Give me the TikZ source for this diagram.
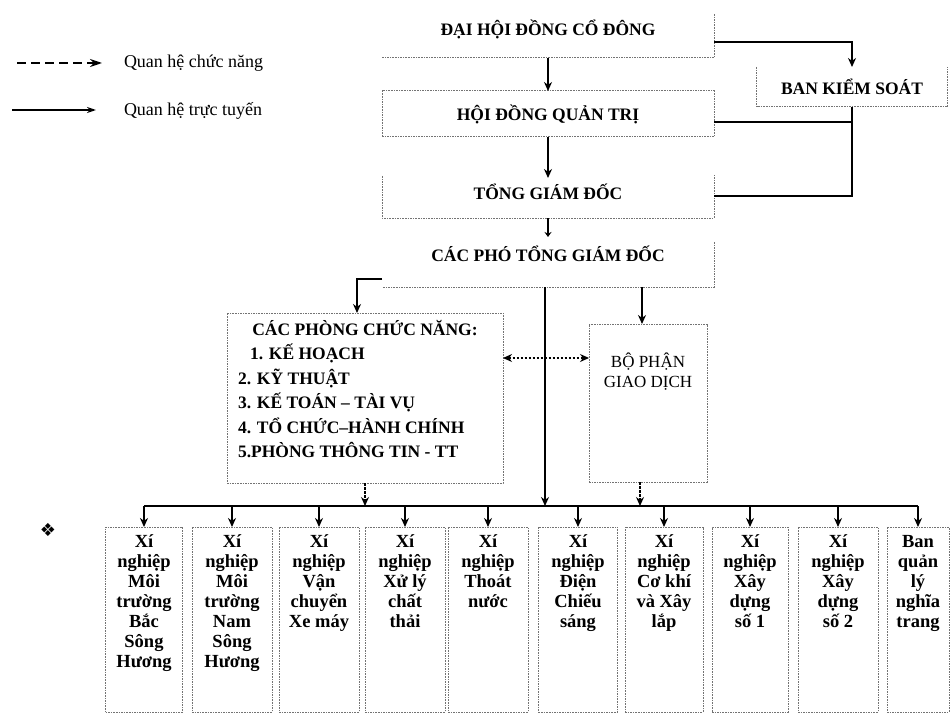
\documentclass[tikz,border=0pt]{standalone}
\usepackage{fontspec}
\setmainfont{Liberation Serif}
\newfontfamily\dejavu{DejaVu Sans}
\usetikzlibrary{arrows.meta}
\newcommand\unitbox[2]{\parbox[c][185pt][t]{#1}{\centering\vspace*{8pt}#2}}
\begin{document}
\begin{tikzpicture}[x=1pt,y=-1pt,
  every node/.style={inner sep=0pt, outer sep=0pt},
  boxedge/.style={draw=black!55, line width=1pt, dash pattern=on 1.6pt off 1pt},
  frame/.style={boxedge, rectangle},
  bf/.style={font=\fontsize{17.5}{20}\selectfont\bfseries},
  rg/.style={font=\fontsize{17}{20}\selectfont},
  solidline/.style={line width=1.6pt},
  arr/.style={line width=1.6pt, -{Stealth[length=9pt,width=8pt]}},
  darr/.style={line width=1.3pt, dash pattern=on 2.5pt off 1.5pt, -{Stealth[length=9pt,width=8pt]}},
  unit/.style={frame, anchor=north, font=\fontsize{18.5}{20}\selectfont\bfseries},
]
\useasboundingbox (0,0) rectangle (952,714);

% legend
\coordinate (lga) at (17,63);
\coordinate (lgb) at (102,63);
\coordinate (lgc) at (12,110);
\coordinate (lgd) at (96,110);
\draw[line width=1.4pt, dash pattern=on 9pt off 5pt, -{Stealth[length=12pt,width=8pt]}] (lga) -- (lgb);
\draw[line width=1.4pt, -{Stealth[length=9pt,width=6pt]}] (lgc) -- (lgd);
\node[anchor=west, font=\fontsize{18}{20}\selectfont] (lgt1) at (124,63) {Quan hệ chức năng};
\node[anchor=west, font=\fontsize{18}{20}\selectfont] (lgt2) at (124,111) {Quan hệ trực tuyến};
\node[font=\dejavu\fontsize{18}{18}\selectfont] (orn) at (48,530) {❖};

% top boxes
\node[bf, minimum width=332pt, minimum height=58pt] (dh) at (548,29) {ĐẠI HỘI ĐỒNG CỔ ĐÔNG};
\draw[boxedge] ([yshift=-14pt]dh.north east) -- (dh.south east) -- (dh.south west);
\node[bf, frame, minimum width=332pt, minimum height=46pt] (hd) at (548,114) {HỘI ĐỒNG QUẢN TRỊ};
\node[bf, minimum width=332pt, minimum height=52pt] (tg) at (548,192) {TỔNG GIÁM ĐỐC};
\draw[boxedge] ([yshift=-10pt]tg.north west) -- (tg.south west) -- (tg.south east) -- ([yshift=-9pt]tg.north east);
\node[bf, minimum width=332pt, minimum height=66pt] (pt) at (548,254) {CÁC PHÓ TỔNG GIÁM ĐỐC};
\draw[boxedge] ([yshift=-21pt]pt.north east) -- (pt.south east) -- (pt.south west);
\node[bf, minimum width=191pt, minimum height=40pt] (bk) at (852,87) {BAN KIỂM SOÁT};
\draw[boxedge] (bk.north west) -- (bk.south west) -- (bk.south east) -- (bk.north east);

% middle boxes
\node[frame, anchor=north west, font=\fontsize{17.5}{24.5}\selectfont\bfseries] (ph) at (227,313)
  {\parbox[c][170pt][t]{276pt}{\vspace*{7pt}\centering CÁC PHÒNG CHỨC NĂNG:\par
   \raggedright\leftskip=11pt
   \hspace*{12pt}1. KẾ HOẠCH\par
   2. KỸ THUẬT\par
   3. KẾ TOÁN – TÀI VỤ\par
   4. TỔ CHỨC–HÀNH CHÍNH\par
   5.PHÒNG THÔNG TIN - TT\par}};
\node[frame, anchor=north west, rg] (bp) at (589,324)
  {\parbox[c][158pt][t]{118pt}{\centering\vspace*{29pt}BỘ PHẬN\\GIAO DỊCH}};

% units
\node[unit] (u1) at (144,527) {\unitbox{77pt}{Xí\\nghiệp\\Môi\\trường\\Bắc\\Sông\\Hương}};
\node[unit] (u2) at (232,527) {\unitbox{80pt}{Xí\\nghiệp\\Môi\\trường\\Nam\\Sông\\Hương}};
\node[unit] (u3) at (319,527) {\unitbox{80pt}{Xí\\nghiệp\\Vận\\chuyển\\Xe máy}};
\node[unit] (u4) at (405,527) {\unitbox{80pt}{Xí\\nghiệp\\Xử lý\\chất\\thải}};
\node[unit] (u5) at (488,527) {\unitbox{80pt}{Xí\\nghiệp\\Thoát\\nước}};
\node[unit] (u6) at (578,527) {\unitbox{79pt}{Xí\\nghiệp\\Điện\\Chiếu\\sáng}};
\node[unit] (u7) at (664,527) {\unitbox{78pt}{Xí\\nghiệp\\Cơ khí\\và Xây\\lắp}};
\node[unit] (u8) at (750,527) {\unitbox{76pt}{Xí\\nghiệp\\Xây\\dựng\\số 1}};
\node[unit] (u9) at (838,527) {\unitbox{80pt}{Xí\\nghiệp\\Xây\\dựng\\số 2}};
\node[unit] (u10) at (918,527) {\unitbox{62pt}{Ban\\quản\\lý\\nghĩa\\trang}};

% connectors
\draw[arr] (dh.south) -- (hd.north);
\draw[arr] ([yshift=-13pt]dh.east) -| (bk.north);
\draw[solidline] ([yshift=-8pt]hd.east) -- ([yshift=-8pt]hd.east -| bk.south);
\draw[solidline] (bk.south) |- ([yshift=-4pt]tg.east);
\draw[arr] (hd.south) -- ([yshift=-12pt]tg.north);
\draw[line width=1.6pt, -{Stealth[length=5pt,width=7pt]}] (tg.south) -- ([yshift=-16pt]pt.north);
\draw[arr] ([yshift=-25pt]pt.west) -| ([xshift=-8pt]ph.north);
\coordinate (busl) at (144,506);
\draw[solidline] (u1.north |- busl) -- (u10.north |- busl);
\draw[arr] ([xshift=-3pt]pt.south) -- ([xshift=-3pt]pt.south |- busl);
\draw[arr] ([xshift=-6pt]bp.north |- pt.south) -- ([xshift=-6pt]bp.north);
\draw[darr, {Stealth[length=9pt,width=8pt]}-{Stealth[length=9pt,width=8pt]}] ([yshift=40pt]ph.east) -- ([yshift=40pt]ph.east -| bp.west);
\draw[darr] (ph.south) -- (ph.south |- busl);
\draw[darr] ([xshift=-8pt]bp.south) -- ([xshift=-8pt]bp.south |- busl);
\foreach \i in {1,...,10} {\draw[arr] (u\i.north |- busl) -- (u\i.north);}
\end{tikzpicture}
\end{document}
